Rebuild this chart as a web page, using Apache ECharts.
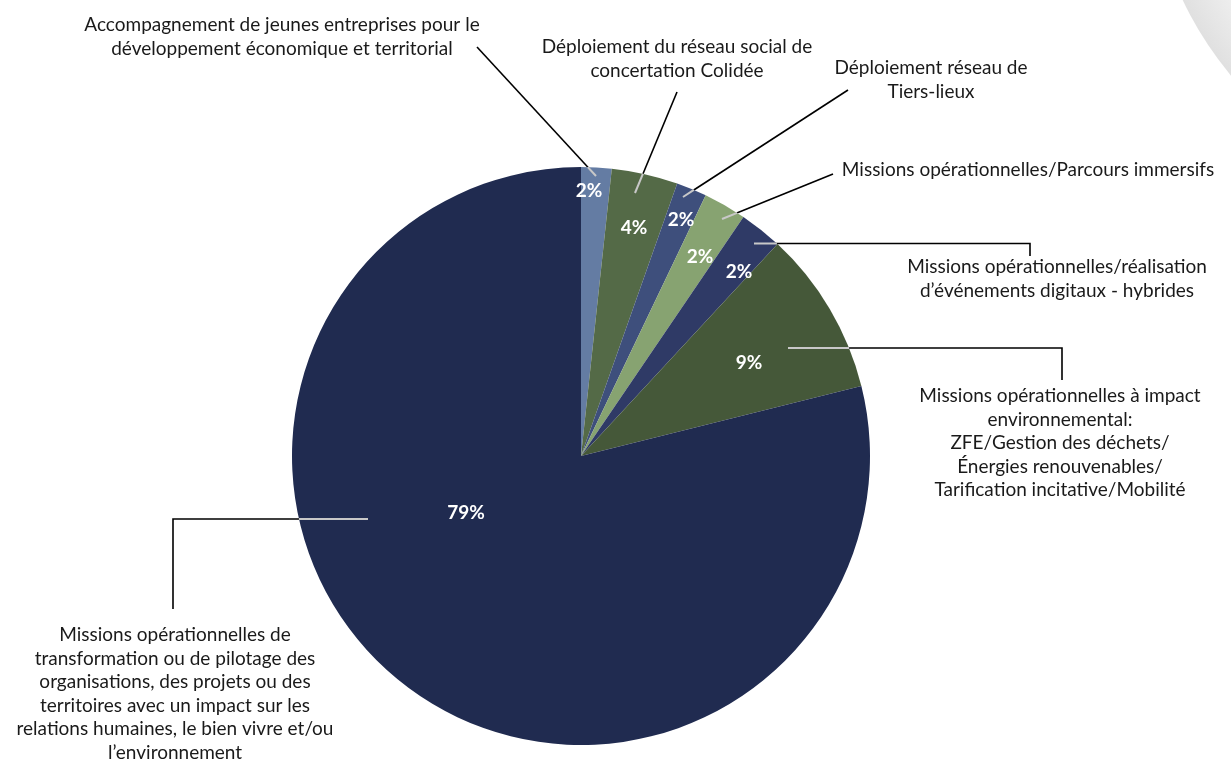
<!DOCTYPE html>
<html lang="fr">
<head>
<meta charset="utf-8">
<title>Répartition des missions</title>
<script src="https://cdn.jsdelivr.net/npm/echarts@6/dist/echarts.min.js"></script>
<style>
  html, body { margin: 0; padding: 0; background: #ffffff; }
  #chart { width: 1231px; height: 760px; }
</style>
</head>
<body>
<div id="chart"></div>
<script>
// Mission categories (clockwise from 12 o'clock) and their share of activity, in %
const categories = [
  'Accompagnement de jeunes entreprises pour le\ndéveloppement économique et territorial',
  'Déploiement du réseau social de\nconcertation Colidée',
  'Déploiement réseau de\nTiers-lieux',
  'Missions opérationnelles/Parcours immersifs',
  'Missions opérationnelles/réalisation\nd’événements digitaux - hybrides',
  'Missions opérationnelles à impact\nenvironnemental:\nZFE/Gestion des déchets/\nÉnergies renouvenables/\nTarification incitative/Mobilité',
  'Missions opérationnelles de\ntransformation ou de pilotage des\norganisations, des projets ou des\nterritoires avec un impact sur les\nrelations humaines, le bien vivre et/ou\nl’environnement'
];
const shares = [1.7, 3.7, 1.7, 2.4, 2.4, 9.2, 78.9];

// Slice colours
const palette = ['#647ca3', '#546a47', '#3e4f7c', '#87a371', '#2f3a66', '#455839', '#202b50'];

// Geometry of the pie (px)
const PIE_CENTER = [581, 456];
const PIE_RADIUS = 289;

// Callouts: centre of each category text block, and its leader line (from inside the slice outward)
const calloutText = [[282, 37], [677, 59], [931, 80], [1028, 170], [1057, 279], [1060, 443], [175, 694]];
const calloutLines = [
  [[596, 176], [477, 47]],
  [[635, 193], [677, 92]],
  [[683, 197], [848, 90]],
  [[722, 219], [833, 174]],
  [[754, 243.5], [1030, 243.5], [1030, 256]],
  [[788, 348], [1062, 348], [1062, 380]],
  [[368, 519], [173, 519], [173, 609]]
];
// Position of the percentage written on each slice
const percentPos = [[589, 191], [634, 228], [681, 220], [700, 257], [739, 272], [749, 363], [466, 513]];

const FONT = 'Lato, "Noto Sans", sans-serif';

// Part of a leader line that lies over the pie: from its inner point to where it leaves the disc
function partInsidePie(points) {
  const [x0, y0] = points[0];
  const [x1, y1] = points[1];
  const dx = x1 - x0, dy = y1 - y0;
  const fx = x0 - PIE_CENTER[0], fy = y0 - PIE_CENTER[1];
  const a = dx * dx + dy * dy;
  const b = 2 * (fx * dx + fy * dy);
  const c = fx * fx + fy * fy - PIE_RADIUS * PIE_RADIUS;
  const t = Math.min(1, (-b + Math.sqrt(b * b - 4 * a * c)) / (2 * a));
  return [[x0, y0], [x0 + t * dx, y0 + t * dy]];
}

const pieData = categories.map((name, i) => ({
  name: name,
  value: shares[i],
  itemStyle: { color: palette[i] }
}));
const ghostData = categories.map((name, i) => ({ name: name, value: shares[i] }));

const pieBase = {
  type: 'pie',
  center: PIE_CENTER,
  radius: PIE_RADIUS,
  startAngle: 90,
  clockwise: true,
  avoidLabelOverlap: false,
  animation: false
};

const chart = echarts.init(document.getElementById('chart'), null, { renderer: 'canvas' });

chart.setOption({
  backgroundColor: '#ffffff',
  animation: false,
  tooltip: { show: false },
  graphic: [{
    type: 'circle',
    z: -10,
    silent: true,
    shape: { cx: 1500, cy: -150, r: 351 },
    style: {
      fill: {
        type: 'radial', x: 0.5, y: 0.5, r: 0.5,
        colorStops: [
          { offset: 0, color: '#ffffff' },
          { offset: 0.8, color: '#f6f6f6' },
          { offset: 1, color: '#e0e0e0' }
        ]
      }
    }
  }],
  series: [
    // Category texts with black leader lines (the part over the pie is hidden by the slices)
    Object.assign({}, pieBase, {
      name: 'Catégories',
      z: 1,
      silent: true,
      data: ghostData,
      itemStyle: { color: 'rgba(0,0,0,0)' },
      label: {
        show: true,
        position: 'outside',
        formatter: '{b}',
        color: '#1a1a1a',
        fontFamily: FONT,
        fontSize: 19,
        lineHeight: 23.5,
        align: 'center'
      },
      labelLine: { show: true, lineStyle: { color: '#000000', width: 1.6 } },
      labelLayout: function (p) {
        const pos = calloutText[p.dataIndex];
        return {
          x: pos[0],
          y: pos[1],
          align: 'center',
          verticalAlign: 'middle',
          labelLinePoints: calloutLines[p.dataIndex]
        };
      },
      emphasis: { disabled: true }
    }),
    // The pie itself with its percentages
    Object.assign({}, pieBase, {
      name: 'Part',
      z: 2,
      data: pieData,
      label: {
        show: true,
        position: 'inside',
        formatter: function (p) { return Math.round(p.percent) + '%'; },
        color: '#ffffff',
        fontFamily: FONT,
        fontWeight: 'bold',
        fontSize: 19
      },
      labelLine: { show: false },
      labelLayout: function (p) {
        const pos = percentPos[p.dataIndex];
        return { x: pos[0], y: pos[1], align: 'center', verticalAlign: 'middle' };
      },
      emphasis: { disabled: true }
    }),
    // Light grey segment of each leader line, drawn over the slices
    Object.assign({}, pieBase, {
      name: 'Repères',
      z: 3,
      silent: true,
      data: ghostData,
      itemStyle: { color: 'rgba(0,0,0,0)' },
      label: { show: true, position: 'outside', formatter: ' ', fontSize: 1 },
      labelLine: { show: true, lineStyle: { color: '#c8c8c8', width: 2 } },
      labelLayout: function (p) {
        return { labelLinePoints: partInsidePie(calloutLines[p.dataIndex]) };
      },
      emphasis: { disabled: true }
    })
  ]
});
</script>
</body>
</html>
